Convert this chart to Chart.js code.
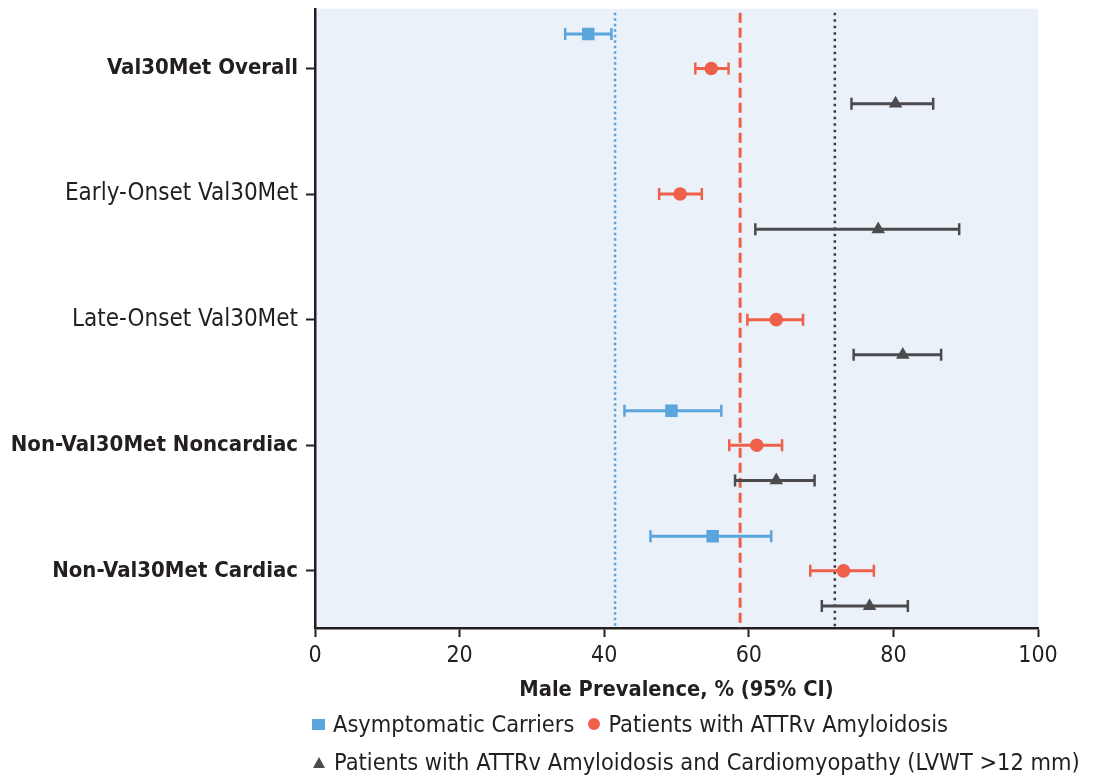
<!DOCTYPE html>
<html>
<head>
<meta charset="utf-8">
<script src="https://cdn.jsdelivr.net/npm/chart.js@4.4.1/dist/chart.umd.min.js"></script>
<style>
  html, body { margin: 0; padding: 0; background: #fff; }
  #wrap { position: relative; width: 1097px; height: 775px; }
  .legend-row {
    position: absolute; left: 312px; display: flex; align-items: center;
    font-family: "Liberation Sans Narrow", "DejaVu Sans Condensed", Roboto, sans-serif;
    font-size: 23.4px; color: #231f20; white-space: nowrap;
  }
  .mk { display: inline-block; margin-right: 8px; }
  .sq { width: 13px; height: 11px; background: #5aa5dc; }
  .dot { width: 12px; height: 12px; border-radius: 50%; background: #ef604a; margin-left: 14px; }
  .tri { width: 0; height: 0; border-left: 6px solid transparent; border-right: 6px solid transparent; border-bottom: 11px solid #4b4b4d; margin-left: 1px; margin-right: 9px; }
</style>
</head>
<body>
<div id="wrap">
  <canvas id="forest" width="1097" height="775"></canvas>
  <div class="legend-row" style="top:710px">
    <span class="mk sq"></span><span>Asymptomatic Carriers</span>
    <span class="mk dot"></span><span>Patients with ATTRv Amyloidosis</span>
  </div>
  <div class="legend-row" style="top:748px">
    <span class="mk tri"></span><span>Patients with ATTRv Amyloidosis and Cardiomyopathy (LVWT &gt;12 mm)</span>
  </div>
</div>
<script>
// categories, top to bottom
const categories = ["Val30Met Overall", "Early-Onset Val30Met", "Late-Onset Val30Met", "Non-Val30Met Noncardiac", "Non-Val30Met Cardiac"]
const boldCats = [true, false, false, true, true]

// male prevalence % with 95% CI
const carriersMean = [37.8, null, null, 49.3, 55.0]
const carriersLow = [34.6, null, null, 42.8, 46.4]
const carriersHigh = [41.0, null, null, 56.2, 63.1]

const amyloidMean = [54.8, 50.5, 63.8, 61.1, 73.1]
const amyloidLow = [52.6, 47.6, 59.8, 57.3, 68.5]
const amyloidHigh = [57.2, 53.5, 67.5, 64.6, 77.3]

const cardioMean = [80.3, 77.9, 81.3, 63.8, 76.7]
const cardioLow = [74.2, 60.9, 74.5, 58.1, 70.1]
const cardioHigh = [85.5, 89.1, 86.6, 69.1, 82.0]

// pooled reference lines (carriers, amyloidosis, cardiomyopathy)
const pooledValues = [41.5, 58.8, 71.9]

const xTicks = [0, 20, 40, 60, 80, 100]

const BLUE = "#5aa5dc"
const RED = "#ef604a"
const DARK = "#4b4b4d"
const AXIS = "#231f20"
const FONT = "'Liberation Sans Narrow', 'DejaVu Sans Condensed', Roboto, sans-serif"

// vertical offset of each series inside a category row
const rowShift = [-0.275, 0, 0.28]

function toPoints(mean, low, high, shift) {
  const pts = []
  mean.forEach((m, i) => {
    if (m !== null) pts.push({ x: m, y: i + shift, lo: low[i], hi: high[i] })
  })
  return pts
}

const seriesInfo = [
  { label: "Asymptomatic Carriers", color: BLUE, style: "rect", r: 8.8, data: toPoints(carriersMean, carriersLow, carriersHigh, rowShift[0]) },
  { label: "Patients with ATTRv Amyloidosis", color: RED, style: "circle", r: 6.8, data: toPoints(amyloidMean, amyloidLow, amyloidHigh, rowShift[1]) },
  { label: "Patients with ATTRv Amyloidosis and Cardiomyopathy (LVWT >12 mm)", color: DARK, style: "triangle", r: 7.8, data: toPoints(cardioMean, cardioLow, cardioHigh, rowShift[2]) },
]

const refDash = [[2.5, 3], [10, 5], [2.5, 4]]
const refColor = [BLUE, RED, "#3a3a3c"]

const forestPlugin = {
  id: "forest",
  beforeDraw(chart) {
    const { ctx, chartArea: a } = chart
    ctx.save()
    ctx.fillStyle = "#ebf1f9"
    ctx.fillRect(a.left, a.top, a.right - a.left, a.bottom - a.top)
    ctx.restore()
  },
  beforeDatasetsDraw(chart) {
    const { ctx, chartArea: a, scales } = chart
    const xs = scales.x, ys = scales.y
    ctx.save()
    // pooled reference lines
    pooledValues.forEach((v, k) => {
      const px = xs.getPixelForValue(v)
      ctx.beginPath()
      ctx.setLineDash(refDash[k])
      ctx.lineWidth = k === 1 ? 3 : 2.5
      ctx.strokeStyle = refColor[k]
      ctx.moveTo(px, a.top + 4)
      ctx.lineTo(px, a.bottom)
      ctx.stroke()
    })
    ctx.setLineDash([])
    // error bars
    seriesInfo.forEach((s) => {
      ctx.strokeStyle = s.color
      s.data.forEach((p) => {
        const x1 = xs.getPixelForValue(p.lo)
        const x2 = xs.getPixelForValue(p.hi)
        const y = ys.getPixelForValue(p.y)
        ctx.lineWidth = 3
        ctx.beginPath()
        ctx.moveTo(x1, y)
        ctx.lineTo(x2, y)
        ctx.stroke()
        ctx.lineWidth = 2.5
        ctx.beginPath()
        ctx.moveTo(x1, y - 6)
        ctx.lineTo(x1, y + 6)
        ctx.moveTo(x2, y - 6)
        ctx.lineTo(x2, y + 6)
        ctx.stroke()
      })
    })
    ctx.restore()
  },
}

new Chart(document.getElementById("forest"), {
  type: "scatter",
  data: {
    datasets: seriesInfo.map((s) => ({
      label: s.label,
      data: s.data,
      pointStyle: s.style,
      pointRadius: s.r,
      pointBackgroundColor: s.color,
      pointBorderColor: s.color,
      pointBorderWidth: 0,
    })),
  },
  options: {
    responsive: false,
    animation: false,
    devicePixelRatio: 1,
    layout: { padding: { top: 8, right: 59, bottom: 65, left: 0 } },
    plugins: { legend: { display: false }, tooltip: { enabled: false } },
    scales: {
      x: {
        type: "linear",
        min: 0,
        max: 100,
        afterBuildTicks: (s) => { s.ticks = xTicks.map((v) => ({ value: v })) },
        afterFit: (s) => { s.height = 82; s.paddingLeft = 0; s.paddingRight = 0 },
        ticks: { color: AXIS, padding: 5, font: { family: FONT, size: 23 } },
        grid: { drawOnChartArea: false, tickLength: 9, tickWidth: 2, tickColor: AXIS },
        border: { color: AXIS, width: 2.5 },
        title: {
          display: true,
          text: "Male Prevalence, % (95% CI)",
          color: AXIS,
          font: { family: FONT, size: 21.7, weight: "bold" },
          padding: { top: 0, bottom: 7 },
        },
      },
      y: {
        type: "linear",
        reverse: true,
        min: -0.475,
        max: 4.455,
        afterBuildTicks: (s) => { s.ticks = categories.map((c, i) => ({ value: i })) },
        afterFit: (s) => { s.width = 315; s.paddingTop = 0; s.paddingBottom = 0 },
        ticks: {
          color: AXIS,
          padding: 8,
          callback: (v) => categories[v],
          font: (c) => (boldCats[c.index]
            ? { family: FONT, size: 22, weight: "bold" }
            : { family: FONT, size: 24, weight: "normal" }),
        },
        grid: { drawOnChartArea: false, tickLength: 9, tickWidth: 2, tickColor: AXIS },
        border: { color: AXIS, width: 2.5 },
      },
    },
  },
  plugins: [forestPlugin],
})
</script>
</body>
</html>
